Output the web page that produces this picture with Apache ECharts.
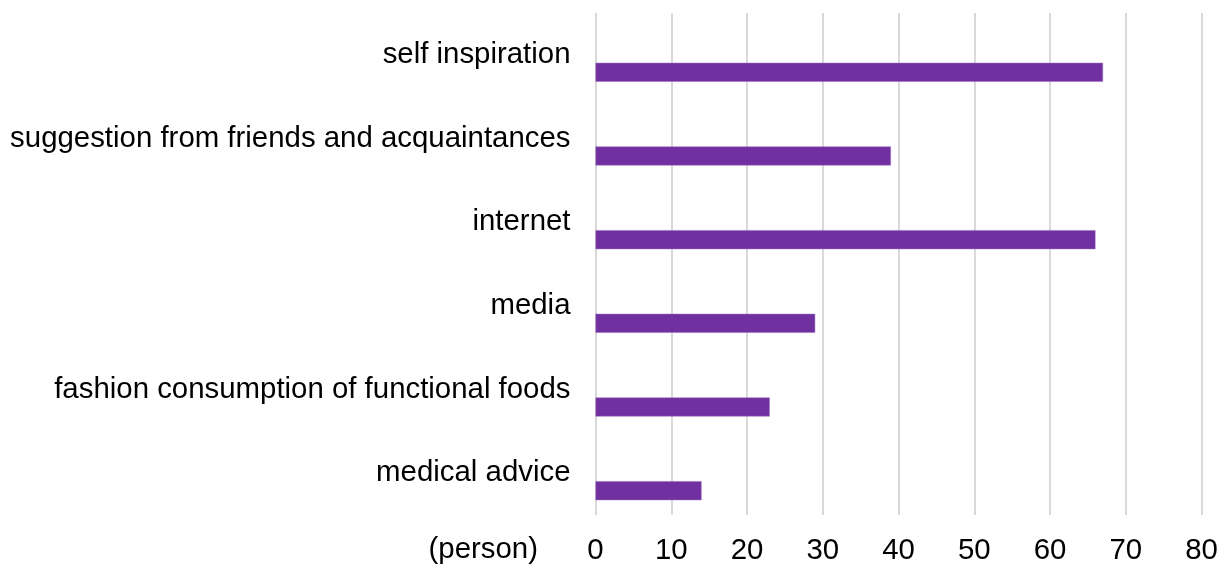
<!DOCTYPE html>
<html>
<head>
<meta charset="utf-8">
<script src="https://cdn.jsdelivr.net/npm/echarts@6/dist/echarts.min.js"></script>
<style>
html,body{margin:0;padding:0;background:#fff;}
#chart{width:1225px;height:565px;}
</style>
</head>
<body>
<div id="chart"></div>
<script>
const categories = ['self inspiration','suggestion from friends and acquaintances','internet','media','fashion consumption of functional foods','medical advice'];
const values = [67, 39, 66, 29, 23, 14];
const unitLabel = '(person)';
const xTicks = {min: 0, max: 80, interval: 10};

const chart = echarts.init(document.getElementById('chart'));
const FONT = '"Liberation Sans", Arial, sans-serif';
chart.setOption({
  animation: false,
  grid: {left: 595.5, right: 23.5, top: 13, bottom: 49, containLabel: false},
  xAxis: {
    type: 'value', min: xTicks.min, max: xTicks.max, interval: xTicks.interval,
    axisLine: {show: false}, axisTick: {show: false},
    splitLine: {show: true, lineStyle: {color: '#d9d9d9', width: 2}},
    axisLabel: {color: '#000', fontSize: 29.4, fontFamily: FONT, margin: 21}
  },
  yAxis: {
    type: 'category', data: categories, inverse: true,
    axisLine: {show: false}, axisTick: {show: false},
    axisLabel: {color: '#000', fontSize: 29.4, fontFamily: FONT, margin: 25}
  },
  graphic: [{
    type: 'text', right: 687, top: 535,
    style: {text: unitLabel, fill: '#000', font: '29.4px ' + FONT}
  }],
  series: [
    {type: 'bar', data: categories.map(() => 0), barWidth: 19, barGap: '84%', itemStyle: {color: 'transparent'}, silent: true},
    {type: 'bar', data: values, barWidth: 19, barGap: '84%', itemStyle: {color: '#7030a0', borderColor: '#9a6cc0', borderWidth: 0.5}}
  ]
});
</script>
</body>
</html>
